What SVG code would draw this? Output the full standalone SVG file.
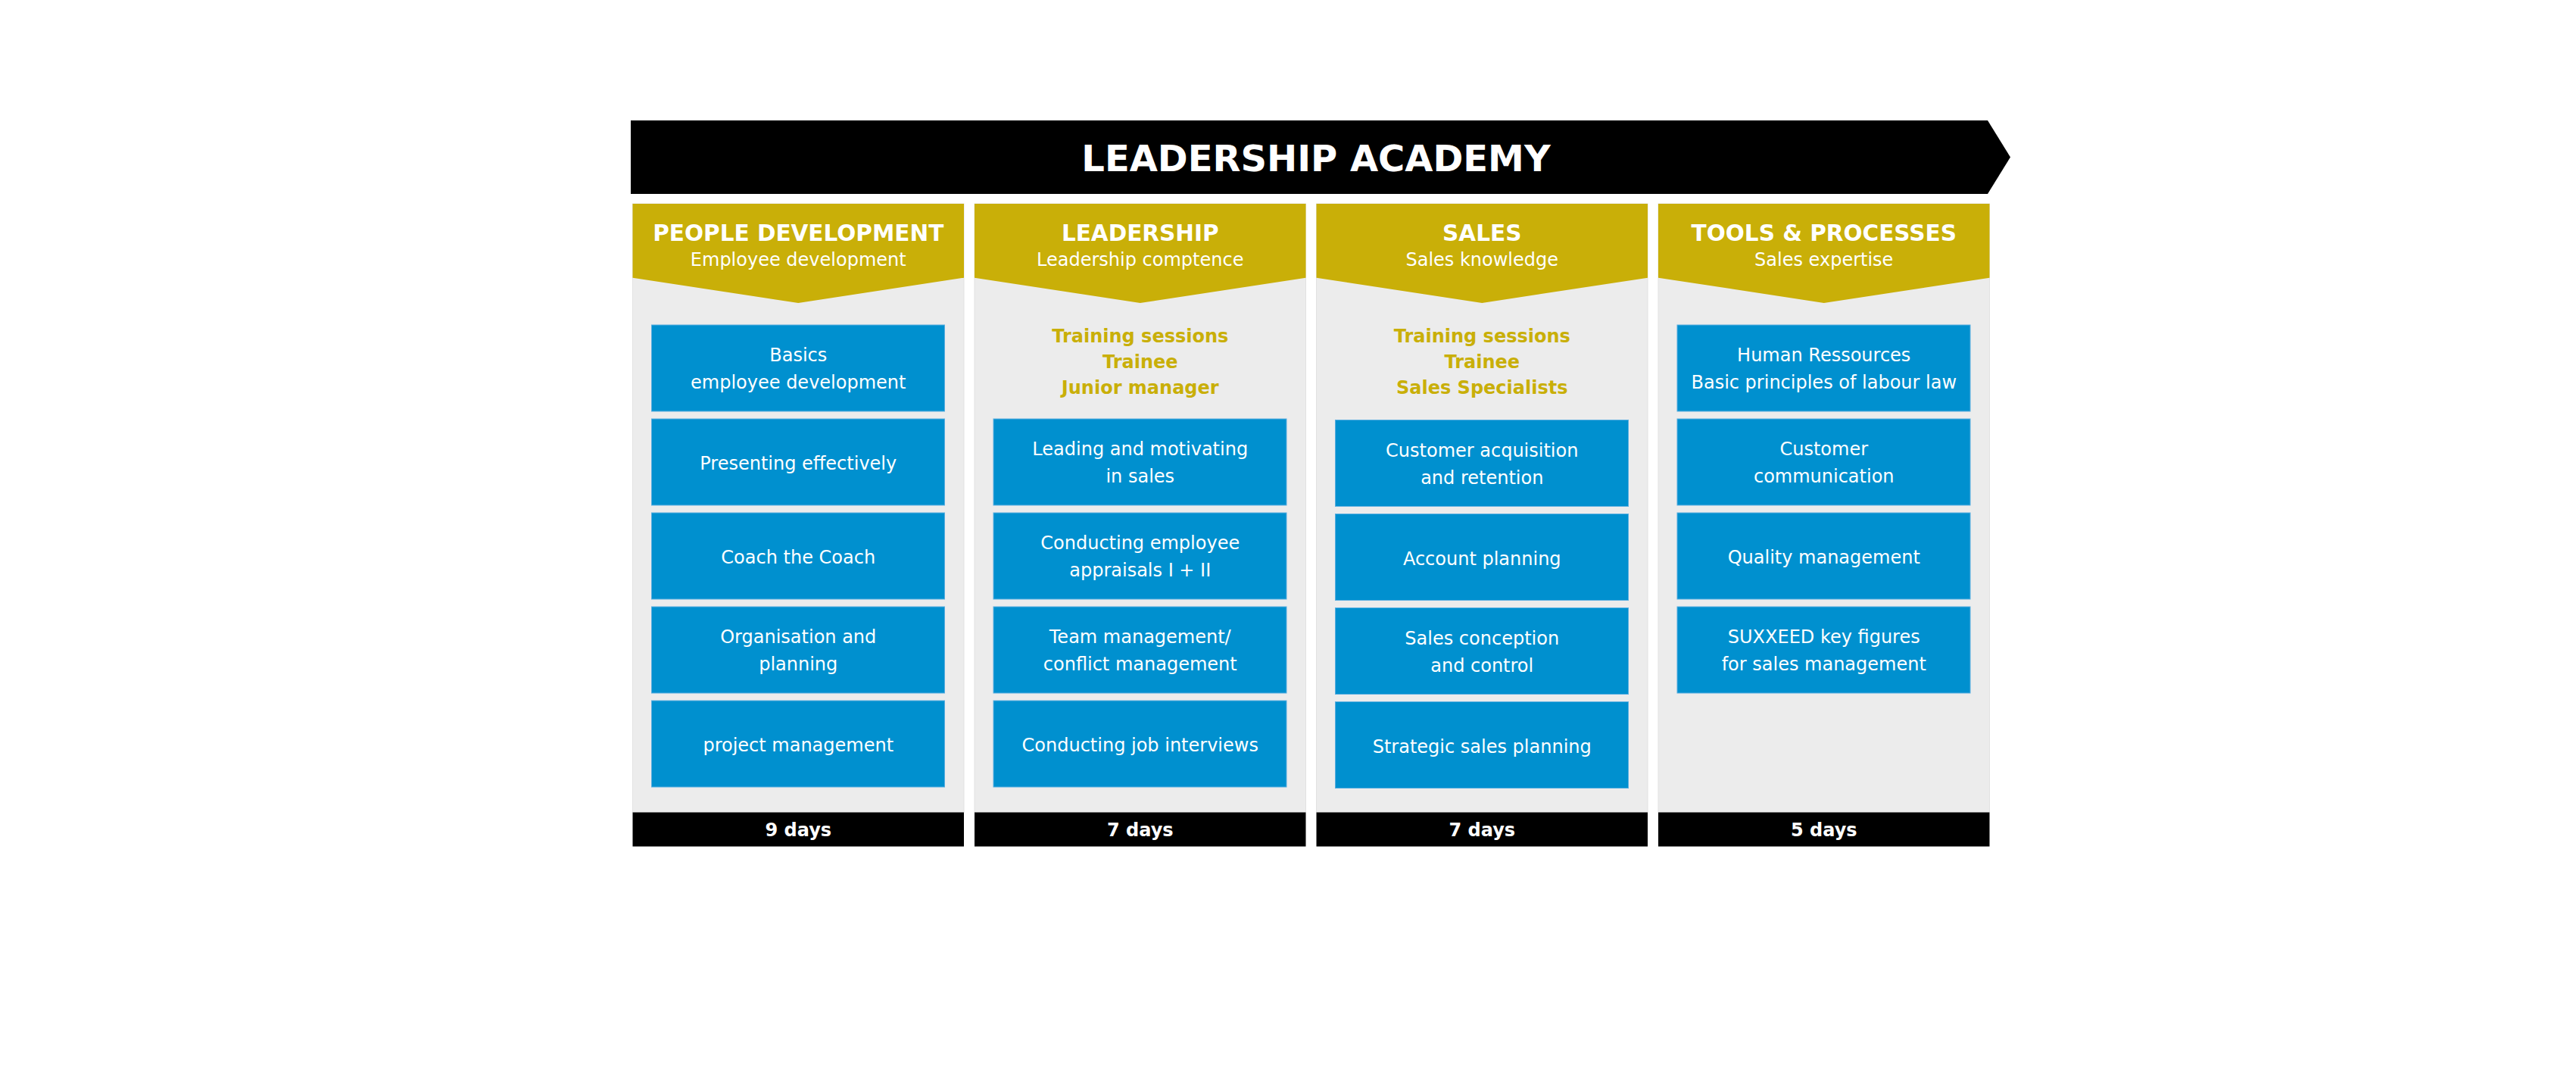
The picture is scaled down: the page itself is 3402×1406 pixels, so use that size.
<svg xmlns="http://www.w3.org/2000/svg" width="3402" height="1406" viewBox="0 0 3402 1406">
<style>
text{font-family:"DejaVu Sans","Verdana","Liberation Sans",sans-serif;text-anchor:middle}
.col{fill:#ececec;stroke:#e2e2e2;stroke-width:1}
.hdr{fill:#c9af08}
.box{fill:#0090cf;stroke:#5aaee0;stroke-width:1}
.bar{fill:#000}
.t1{font-size:29.5px;font-weight:bold;fill:#fff}
.t2{font-size:24px;fill:#fff}
.bt{font-size:24px;fill:#fff}
.gt{font-size:24px;font-weight:bold;fill:#c9af08}
.dt{font-size:24px;font-weight:bold;fill:#fff}
.main{font-size:48px;font-weight:bold;fill:#fff}
</style>
<rect x="0" y="0" width="3402" height="1406" fill="#fff"/>
<g id="banner">
<polygon points="833,159 2625,159 2655,207.5 2625,256 833,256" fill="#000"/>
<text class="main" x="1738" y="226">LEADERSHIP ACADEMY</text>
</g>
<g id="connectors"/>
<g id="col-people">
<rect class="col" x="835.5" y="269" width="437.5" height="803.5"/>
<polygon class="hdr" points="835.5,269 1273,269 1273,366.7 1054.25,400 835.5,366.7"/>
<text class="t1" x="1054.25" y="318">PEOPLE DEVELOPMENT</text>
<text class="t2" x="1054.25" y="350.7">Employee development</text>
<rect class="bar" x="835.5" y="1072.5" width="437.5" height="45"/>
<text class="dt" x="1054.25" y="1104">9 days</text>
</g>
<g id="n-basics"><rect class="box" x="860.5" y="429" width="387" height="114"/><text class="bt" x="1054.25" y="477">Basics</text><text class="bt" x="1054.25" y="513">employee development</text></g>
<g id="n-presenting"><rect class="box" x="860.5" y="553" width="387" height="114"/><text class="bt" x="1054.25" y="620">Presenting effectively</text></g>
<g id="n-coach"><rect class="box" x="860.5" y="677" width="387" height="114"/><text class="bt" x="1054.25" y="744">Coach the Coach</text></g>
<g id="n-organisation"><rect class="box" x="860.5" y="801" width="387" height="114"/><text class="bt" x="1054.25" y="849">Organisation and</text><text class="bt" x="1054.25" y="885">planning</text></g>
<g id="n-project"><rect class="box" x="860.5" y="925" width="387" height="114"/><text class="bt" x="1054.25" y="992">project management</text></g>

<g id="col-leadership">
<rect class="col" x="1287" y="269" width="437.5" height="803.5"/>
<polygon class="hdr" points="1287,269 1724.5,269 1724.5,366.7 1505.75,400 1287,366.7"/>
<text class="t1" x="1505.75" y="318">LEADERSHIP</text>
<text class="t2" x="1505.75" y="350.7">Leadership comptence</text>
<text class="gt" x="1505.75" y="452">Training sessions</text>
<text class="gt" x="1505.75" y="486">Trainee</text>
<text class="gt" x="1505.75" y="520">Junior manager</text>
<rect class="bar" x="1287" y="1072.5" width="437.5" height="45"/>
<text class="dt" x="1505.75" y="1104">7 days</text>
</g>
<g id="n-leading"><rect class="box" x="1312" y="553" width="387" height="114"/><text class="bt" x="1505.75" y="601">Leading and motivating</text><text class="bt" x="1505.75" y="637">in sales</text></g>
<g id="n-appraisals"><rect class="box" x="1312" y="677" width="387" height="114"/><text class="bt" x="1505.75" y="725">Conducting employee</text><text class="bt" x="1505.75" y="761">appraisals I + II</text></g>
<g id="n-team"><rect class="box" x="1312" y="801" width="387" height="114"/><text class="bt" x="1505.75" y="849">Team management/</text><text class="bt" x="1505.75" y="885">conflict management</text></g>
<g id="n-interviews"><rect class="box" x="1312" y="925" width="387" height="114"/><text class="bt" x="1505.75" y="992">Conducting job interviews</text></g>

<g id="col-sales">
<rect class="col" x="1738.5" y="269" width="437.5" height="803.5"/>
<polygon class="hdr" points="1738.5,269 2176,269 2176,366.7 1957.25,400 1738.5,366.7"/>
<text class="t1" x="1957.25" y="318">SALES</text>
<text class="t2" x="1957.25" y="350.7">Sales knowledge</text>
<text class="gt" x="1957.25" y="452">Training sessions</text>
<text class="gt" x="1957.25" y="486">Trainee</text>
<text class="gt" x="1957.25" y="520">Sales Specialists</text>
<rect class="bar" x="1738.5" y="1072.5" width="437.5" height="45"/>
<text class="dt" x="1957.25" y="1104">7 days</text>
</g>
<g id="n-acquisition"><rect class="box" x="1763.5" y="554.5" width="387" height="114"/><text class="bt" x="1957.25" y="602.5">Customer acquisition</text><text class="bt" x="1957.25" y="638.5">and retention</text></g>
<g id="n-account"><rect class="box" x="1763.5" y="678.5" width="387" height="114"/><text class="bt" x="1957.25" y="745.5">Account planning</text></g>
<g id="n-conception"><rect class="box" x="1763.5" y="802.5" width="387" height="114"/><text class="bt" x="1957.25" y="850.5">Sales conception</text><text class="bt" x="1957.25" y="886.5">and control</text></g>
<g id="n-strategic"><rect class="box" x="1763.5" y="926.5" width="387" height="114"/><text class="bt" x="1957.25" y="993.5">Strategic sales planning</text></g>

<g id="col-tools">
<rect class="col" x="2190" y="269" width="437.5" height="803.5"/>
<polygon class="hdr" points="2190,269 2627.5,269 2627.5,366.7 2408.75,400 2190,366.7"/>
<text class="t1" x="2408.75" y="318">TOOLS &amp; PROCESSES</text>
<text class="t2" x="2408.75" y="350.7">Sales expertise</text>
<rect class="bar" x="2190" y="1072.5" width="437.5" height="45"/>
<text class="dt" x="2408.75" y="1104">5 days</text>
</g>
<g id="n-hr"><rect class="box" x="2215" y="429" width="387" height="114"/><text class="bt" x="2408.75" y="477">Human Ressources</text><text class="bt" x="2408.75" y="513">Basic principles of labour law</text></g>
<g id="n-communication"><rect class="box" x="2215" y="553" width="387" height="114"/><text class="bt" x="2408.75" y="601">Customer</text><text class="bt" x="2408.75" y="637">communication</text></g>
<g id="n-quality"><rect class="box" x="2215" y="677" width="387" height="114"/><text class="bt" x="2408.75" y="744">Quality management</text></g>
<g id="n-suxxeed"><rect class="box" x="2215" y="801" width="387" height="114"/><text class="bt" x="2408.75" y="849">SUXXEED key figures</text><text class="bt" x="2408.75" y="885">for sales management</text></g>
</svg>
